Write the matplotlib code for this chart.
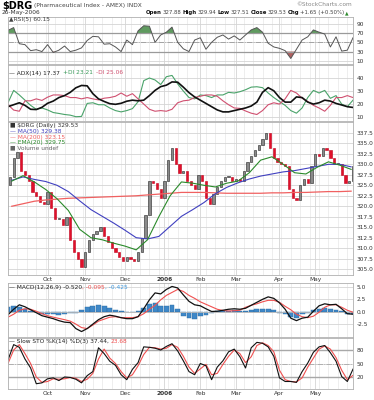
import numpy as np
import matplotlib
matplotlib.use('Agg')
import matplotlib.pyplot as plt

# ---- data (trading-day index, 0 = 1 Sep 2005) ----
month_pos = [21, 41, 62, 83, 102, 121, 144, 163]
month_lbl = ['Oct', 'Nov', 'Dec', '2006', 'Feb', 'Mar', 'Apr', 'May']

close_days = np.arange(1, 184, 2)
first_open = 325.0
close = [327, 331.5, 333, 328.5, 327.5, 326, 323.5, 322.5, 321, 320.5,
         323.5, 319.5, 317, 317, 315.5, 317.5, 312, 309, 307.5, 305.5,
         309, 312, 313.5, 314, 315, 313, 311.5, 310, 309, 308,
         307, 308, 307.5, 307, 309, 312.5, 318, 326, 325.5, 324,
         322, 326, 331, 334, 330, 328, 328.5, 326, 325, 324,
         327.5, 326, 322, 320.5, 323, 324.5, 326, 327, 327, 326,
         326.5, 326, 328.5, 330.5, 332, 333.5, 334.5, 336, 337.5, 334,
         331.5, 330.5, 330, 329.5, 324, 322, 321.5, 325, 326.5, 325.5,
         329.5, 332.5, 332, 334, 333.5, 331.5, 330, 330, 327.5, 325.5,
         326, 329.5]

ma_days = np.arange(2, 184, 6)
ma50 = [326.2, 327, 326.4, 325.9, 325, 323.5, 321.3, 319.2, 317.6, 316,
        314.3, 312.5, 312.2, 312.8, 315.2, 317.6, 319.2, 320.9, 323, 324.5,
        325.6, 326.5, 327.2, 327.7, 328.2, 328.5, 329, 329.5, 330, 330, 329.4]
ma200 = [320, 320.6, 321.2, 321.5, 321.7, 321.9, 322, 322.1, 322.2, 322.3,
         322.4, 322.5, 322.7, 322.9, 323.1, 323.3, 323.3, 323.3, 323.2, 323.1,
         323.1, 323.1, 323.1, 323.2, 323.2, 323.3, 323.3, 323.4, 323.5, 323.5, 323.6]
ema20 = [326, 327.3, 325.8, 324, 321.8, 319, 314.5, 312.5, 312, 311.2,
         310.5, 309.6, 312, 317.5, 322.5, 325.8, 325.5, 325, 324.6, 325.5,
         326, 328, 331, 331.8, 330, 328, 327.7, 329.3, 330.6, 329.8, 328.8]

osc_days = np.arange(0, 184, 3)
rsi = [76, 82, 47, 45, 32, 34, 30, 45, 28, 33, 42, 30, 33, 38, 54, 63, 62, 46, 47, 40,
       30, 55, 45, 75, 86, 85, 50, 66, 72, 83, 50, 36, 30, 55, 60, 35, 50, 61, 66, 57,
       64, 55, 66, 77, 82, 72, 48, 40, 37, 32, 15, 35, 55, 62, 77, 72, 68, 40, 62, 31,
       33, 60]
adx = [18, 19.5, 21, 19, 16, 15.8, 17.5, 20.6, 22.3, 25, 26.5, 29, 32.5, 34.3, 34, 28,
       24, 22, 20.3, 19.8, 20.6, 22.2, 23, 22.5, 23, 26.5, 30.5, 33.4, 34.5, 37, 36.8,
       33, 28.8, 25.5, 23, 20.5, 18, 15.5, 14, 14, 15, 16, 17, 18.5, 21.5, 29, 32.6,
       30.2, 25, 21.5, 21.5, 25.5, 25, 21.5, 20, 21, 23, 22.3, 20.5, 19.3, 18, 17.4]
pdi = [21, 30.5, 27, 23, 19, 16, 17, 15.5, 13.5, 12.8, 12, 11.5, 10.3, 10.5, 20.5, 21,
       19.5, 19.5, 17, 15, 14, 15, 16.5, 21.8, 38, 40, 38.5, 35, 41, 42, 35.5, 30, 25,
       24, 27, 26.5, 25, 27, 27, 29, 28.5, 29.5, 31, 33, 33.3, 32.6, 28.5, 25, 22, 19,
       15, 13, 17, 25, 30.5, 28.5, 30.5, 24.4, 26.5, 20, 18, 23]
mdi = [19.5, 15.4, 14.5, 22.5, 22.5, 24, 22.8, 25.3, 27, 27, 26.5, 25, 25, 24, 25, 24,
       23.2, 24.5, 25, 26, 28.5, 26, 28, 24, 20, 16, 14.5, 15, 14.5, 16, 21, 22.5, 23,
       25, 26, 27, 27, 26, 22.5, 19.5, 17, 16.7, 14.7, 13, 12, 15, 19.5, 21, 20, 24,
       30.5, 28.5, 24.5, 22, 19, 17, 14.5, 19, 25, 25, 26.5, 25]
macd = [-0.6, 0.5, 1.4, 1.0, 0.4, -0.2, -0.8, -1.1, -1.4, -1.8, -2.1, -2.2, -3.4, -4.0,
        -3.4, -2.5, -1.6, -1.0, -0.7, -0.9, -1.2, -1.4, -1.4, -1.0, 0.6, 2.4, 3.8, 3.6,
        4.5, 5.1, 4.8, 3.4, 2.1, 1.4, 1.2, 0.6, 0.05, 0.1, 0.3, 0.5, 0.6, 0.5, 0.7, 1.3,
        1.9, 2.5, 3.0, 2.7, 1.8, 0.5, -1.3, -1.8, -1.3, -1.1, 0.1, 1.2, 1.6, 1.4, 1.5,
        0.6, -0.4, -0.5]
signal = [-1.1, -0.5, 0.3, 0.6, 0.5, 0.1, -0.4, -0.8, -1.1, -1.35, -1.6, -1.9, -2.5,
          -3.2, -3.4, -2.7, -1.9, -1.5, -1.1, -1.0, -1.2, -1.2, -1.2, -1.0, -0.4, 0.5,
          1.3, 2.4, 3.3, 3.9, 4.5, 4.1, 3.3, 2.7, 2.0, 1.5, 1.0, 0.5, 0.25, 0.15, 0.2,
          0.3, 0.9, 1.3, 1.6, 2.0, 2.3, 2.3, 1.9, 1.1, 0.4, -0.5, -1.0, -1.2, -0.9,
          -0.1, 0.9, 1.4, 1.4, 0.9, 0.3, -0.1]
hist = [0.9, 1.1, 1.0, 0.6, 0.2, -0.1, -0.4, -0.4, -0.5, -0.6, -0.4, -0.3, -0.2, 0.3,
        0.9, 1.1, 1.3, 1.1, 0.7, 0.3, 0.1, 0.0, -0.1, 0.1, 0.7, 1.6, 1.8, 1.2, 1.1, 1.3,
        0.6, -0.8, -1.2, -1.4, -0.8, -0.6, -0.3, 0.1, 0.2, 0.2, 0.3, 0.2, 0.1, 0.4, 0.5,
        0.5, 0.6, 0.3, -0.3, -0.5, -1.1, -1.2, -0.5, -0.2, 0.3, 0.6, 0.8, 0.6, 0.3, 0.1,
        -0.4, -0.4]
sto_k = [58, 92, 86, 60, 40, 5, 7, 16, 18, 12, 20, 19, 15, 7, 23, 32, 85, 72, 55, 46,
         25, 14, 37, 52, 87, 86, 84, 80, 88, 94, 78, 56, 32, 25, 50, 45, 14, 42, 56, 76,
         82, 65, 40, 85, 97, 95, 87, 66, 18, 10, 10, 8, 32, 51, 75, 87, 90, 74, 55, 21,
         10, 37.4]
sto_d = [50, 80, 92, 72, 50, 20, 8, 10, 16, 15, 16, 19, 17, 10, 15, 28, 60, 82, 62, 50,
         32, 18, 25, 45, 70, 86, 85, 82, 84, 92, 86, 66, 42, 28, 38, 48, 25, 28, 48, 66,
         80, 72, 52, 65, 90, 96, 90, 76, 35, 14, 10, 9, 18, 42, 62, 82, 89, 82, 63, 35,
         14, 23.7]

close = np.array(close)
rsi = np.array(rsi)

W_PX, H_PX = 374, 400
fig = plt.figure(figsize=(3.74, 4.0), dpi=100)
fig.patch.set_facecolor('white')
renderer = fig.canvas.get_renderer()
FS = 4.2


def ftxt(x, y, s, **kw):
    kw.setdefault('fontsize', FS)
    kw.setdefault('va', 'center')
    return fig.text(x / W_PX, 1 - y / H_PX, s, **kw)


def seq(x, y, parts, gap=1.5):
    # write pieces of text one after another on a line
    for s, kw in parts:
        t = ftxt(x, y, s, **kw)
        x += t.get_window_extent(renderer).width + gap


def panel(top, bottom, ylim, yticks, fmt='%g', months=False):
    ax = fig.add_axes([8 / W_PX, 1 - bottom / H_PX, 345 / W_PX, (bottom - top) / H_PX])
    ax.set_xlim(0, 183)
    ax.set_ylim(*ylim)
    ax.set_xticks(month_pos)
    ax.set_xticks(np.arange(0, 184, 5), minor=True)
    ax.set_yticks(yticks)
    ax.set_yticklabels([fmt % v for v in yticks])
    ax.yaxis.tick_right()
    ax.tick_params(axis='y', labelsize=FS, length=0, pad=2.5, colors='#333333')
    ax.tick_params(axis='x', which='both', length=0, labelsize=FS, pad=1.5,
                   colors='#333333', labelbottom=months)
    if months:
        ax.set_xticklabels(month_lbl)
        ax.get_xticklabels()[3].set_fontweight('bold')
    ax.grid(which='minor', color='#e8e8e8', lw=0.5)
    ax.grid(which='major', color='#d4d4d4', lw=0.6)
    ax.set_axisbelow(True)
    for s in ax.spines.values():
        s.set_color('#b0b0b0')
        s.set_linewidth(0.6)
    return ax


# ---- header ----
seq(2, 6, [('$DRG', dict(fontsize=7, fontweight='bold')),
           ('(Pharmaceutical Index - AMEX) INDX', dict(color='#444444'))])
ftxt(352, 5, '\u00a9StockCharts.com', ha='right', color='#888888')
ftxt(2, 12.5, '26-May-2006', color='#333333')
B = dict(fontweight='bold', color='#111111', fontsize=3.9)
N = dict(color='#444444', fontsize=3.9)
seq(146, 12.5, [('Open', B), ('327.88', N), ('High', B), ('329.94', N),
                ('Low', B), ('327.51', N), ('Close', B), ('329.53', N),
                ('Chg', B), ('+1.65 (+0.50%)', N),
                ('\u25b2', dict(color='#2e8b2e', fontsize=3.3))], gap=1.0)

# ---- RSI ----
ax = panel(17, 64, (3, 105), [10, 30, 50, 70, 90])
ax.axhline(70, color='#9a9a9a', lw=0.9)
ax.axhline(30, color='#9a9a9a', lw=0.9)
ax.axhline(50, color='#9a9a9a', lw=0.6, ls='-.')
ax.fill_between(osc_days, rsi, 70, where=rsi >= 70, interpolate=True, color='#5f9a5f', lw=0)
ax.fill_between(osc_days, rsi, 30, where=rsi <= 30, interpolate=True, color='#b06060', lw=0)
ax.plot(osc_days, rsi, color='#555555', lw=0.7)
ftxt(9, 20, '\u25b2RSI(5) 60.15', color='#444444')

# ---- ADX ----
ax = panel(65, 121, (7, 50), [10, 20, 30, 40])
ax.plot(osc_days, pdi, color='#4aa36a', lw=0.8)
ax.plot(osc_days, mdi, color='#d05070', lw=0.8)
ax.plot(osc_days, adx, color='#111111', lw=1.2)
seq(9, 73, [('\u2014 ADX(14) 17.37', dict(color='#222222')),
            ('+DI 23.21', dict(color='#3a9a5a')),
            ('-DI 25.06', dict(color='#d05070'))], gap=3)

# ---- price ----
ax = panel(122, 275, (303.6, 340.1), np.arange(305, 338, 2.5), fmt='%.1f', months=True)
opens = np.r_[first_open, close[:-1]]
body = close - opens
body = np.where(np.abs(body) < 0.3, 0.3, body)
cols = np.where(close >= opens, '#8a8a8a', '#e0102a')
edges = np.where(close >= opens, '#222222', '#c0001a')
ax.bar(close_days, body, bottom=opens, width=1.2, color=cols, edgecolor=edges, lw=0.4)
ax.plot(ma_days, ma200, color='#f06060', lw=0.9)
ax.plot(ma_days, ma50, color='#4040c0', lw=0.8)
ax.plot(ma_days, ema20, color='#2a8a2a', lw=0.8)
ftxt(10, 126, '\u25a0 $DRG (Daily) 329.53', color='#333333')
ftxt(10, 131.5, '\u2014 MA(50) 329.38', color='#4040c0')
ftxt(10, 137, '\u2014 MA(200) 323.15', color='#f06060')
ftxt(10, 142.5, '\u2014 EMA(20) 329.75', color='#2a8a2a')
ftxt(10, 148, '\u25a0 Volume undef', color='#666666')

# ---- MACD ----
ax = panel(283, 337, (-5.1, 5.8), [-2.5, 0.0, 2.5, 5.0], fmt='%.1f')
ax.axhline(0, color='#bbbbbb', lw=0.6)
ax.bar(osc_days, hist, width=2.6, color='#3f88c8', edgecolor='#2a6aa0', lw=0.3)
ax.plot(osc_days, signal, color='#f05050', lw=0.8)
ax.plot(osc_days, macd, color='#111111', lw=0.9)
seq(9, 287.5, [('\u2014 MACD(12,26,9) -0.520', dict(color='#222222')),
               (', -0.095', dict(color='#f05050')),
               (', -0.425', dict(color='#3f9ae0'))], gap=0)

# ---- slow stochastic ----
ax = panel(338, 389, (-6.7, 106.7), [20, 50, 80], months=True)
ax.axhline(80, color='#a8a8a8', lw=1.0)
ax.axhline(20, color='#a8a8a8', lw=1.0)
ax.axhline(50, color='#a8a8a8', lw=0.6, ls='-.')
ax.plot(osc_days, sto_d, color='#f05050', lw=0.8)
ax.plot(osc_days, sto_k, color='#111111', lw=0.8)
seq(9, 341.5, [('\u2014 Slow STO %K(14) %D(3) 37.44,', dict(color='#222222')),
               ('23.68', dict(color='#f05050'))], gap=1.5)

fig.savefig('out.png', dpi=100)
